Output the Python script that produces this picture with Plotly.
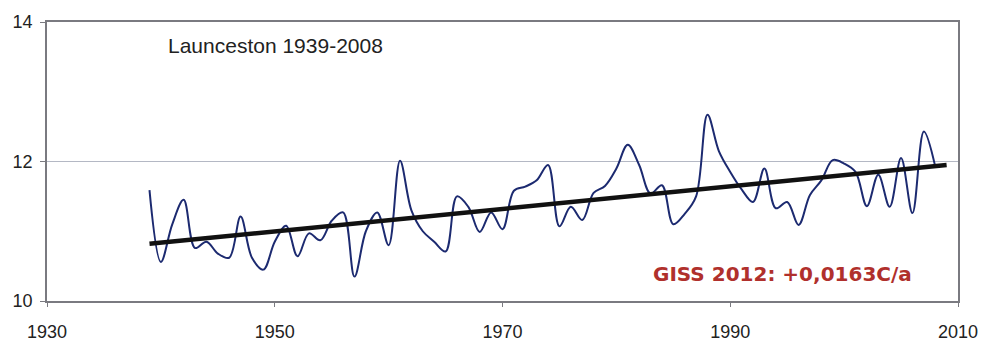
import plotly.graph_objects as go

years = list(range(1939, 2009))
temps = [
    11.59, 10.56, 11.10, 11.45, 10.76, 10.85, 10.68, 10.62, 11.21, 10.62,  # 1939-1948
    10.45, 10.85, 11.08, 10.64, 10.97, 10.87, 11.15, 11.27, 10.35, 11.00,  # 1949-1958
    11.27, 10.80, 12.01, 11.30, 11.00, 10.85, 10.71, 11.50, 11.35, 10.99,  # 1959-1968
    11.27, 11.03, 11.58, 11.64, 11.73, 11.95, 11.07, 11.35, 11.16, 11.55,  # 1969-1978
    11.65, 11.90, 12.24, 11.95, 11.54, 11.66, 11.10, 11.25, 11.50, 12.67,  # 1979-1988
    12.15, 11.85, 11.60, 11.42, 11.90, 11.33, 11.42, 11.09, 11.52, 11.73,  # 1989-1998
    12.02, 11.97, 11.85, 11.36, 11.81, 11.35, 12.05, 11.26, 12.43, 11.93,  # 1999-2008
]
trend_years = [1939, 2009]
trend_vals = [10.82, 11.95]

x_ticks = [1930, 1950, 1970, 1990, 2010]
y_ticks = [10, 12, 14]

title_text = "Launceston 1939-2008"
giss_text = "GISS 2012: +0,0163C/a"

fig = go.Figure()
fig.add_trace(go.Scatter(
    x=years, y=temps, mode="lines",
    line=dict(color="#1c2a70", width=2, shape="spline", smoothing=1.0),
    showlegend=False, hoverinfo="skip",
))
fig.add_trace(go.Scatter(
    x=trend_years, y=trend_vals, mode="lines",
    line=dict(color="#111111", width=4.5),
    showlegend=False, hoverinfo="skip",
))

fig.add_annotation(
    x=0.131, y=0.914, xref="paper", yref="paper",
    text=title_text, showarrow=False, xanchor="left", yanchor="middle",
    font=dict(family="Liberation Sans, Arial, sans-serif", size=21, color="#222222"),
)
fig.add_annotation(
    x=0.663, y=0.097, xref="paper", yref="paper",
    text="<b>" + giss_text + "</b>", showarrow=False, xanchor="left", yanchor="middle",
    font=dict(family="DejaVu Sans, sans-serif", size=20, color="#b0302c"),
)

fig.update_layout(
    width=986, height=347,
    margin=dict(l=47, r=28, t=22, b=46),
    paper_bgcolor="white", plot_bgcolor="white",
    font=dict(family="Liberation Sans, Arial, sans-serif", size=18, color="#222222"),
)
fig.update_xaxes(
    range=[1930, 2010], tickvals=x_ticks, ticktext=[str(v) for v in x_ticks],
    showgrid=False, zeroline=False, automargin=False,
    showline=True, linecolor="#7a7a80", linewidth=1.5, mirror=True,
    ticks="outside", ticklen=4, tickcolor="#7a7a80", ticklabelstandoff=10,
)
fig.update_yaxes(
    range=[10, 14], tickvals=y_ticks, ticktext=[str(v) for v in y_ticks],
    showgrid=True, gridcolor="#b4b8c4", gridwidth=1, zeroline=False, automargin=False,
    showline=True, linecolor="#7a7a80", linewidth=1.5, mirror=True,
    ticks="outside", ticklen=5, tickcolor="#7a7a80", ticklabelstandoff=4,
)

fig.write_html("out.html")
